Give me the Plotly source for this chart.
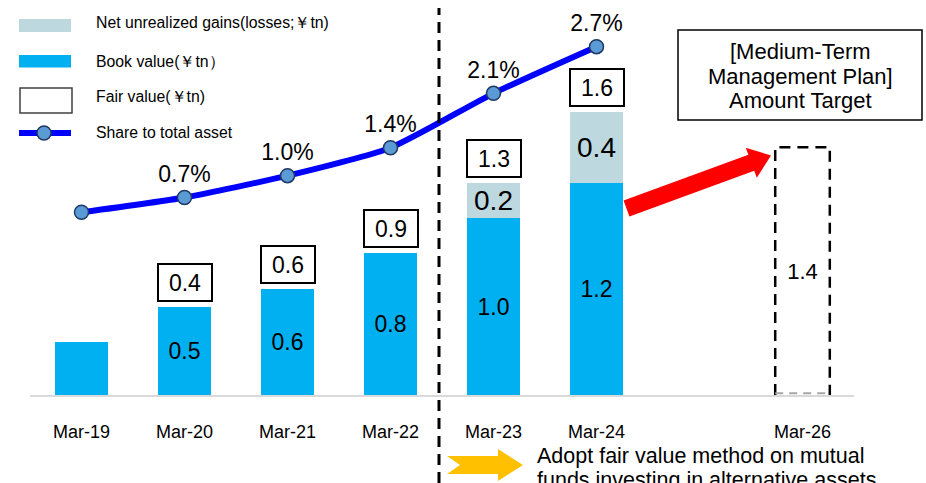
import math
import plotly.graph_objects as go

# ---------------- data ----------------
categories = ["Mar-19", "Mar-20", "Mar-21", "Mar-22", "Mar-23", "Mar-24", "", "Mar-26"]
book_value = [0.3, 0.5, 0.6, 0.8, 1.0, 1.2, None, None]
book_labels = ["", "0.5", "0.6", "0.8", "1.0", "1.2", "", ""]
unrealized_gains = [0.0, 0.0, 0.0, 0.0, 0.2, 0.4, None, None]
gain_labels = ["", "", "", "", "0.2", "0.4", "", ""]
fair_value_labels = ["", "0.4", "0.6", "0.9", "1.3", "1.6", "", ""]
share_pct = [0.57, 0.76, 1.04, 1.40, 2.10, 2.70]
share_labels = ["", "0.7%", "1.0%", "1.4%", "2.1%", "2.7%"]
target_value = [None, None, None, None, None, None, None, 1.4]
target_labels = ["", "", "", "", "", "", "", "1.4"]

legend_names = ["Net unrealized gains(losses;￥tn)", "Book value(￥tn）",
                "Fair value(￥tn)", "Share to total asset"]
plan_title = ["[Medium-Term", "Management Plan]", "Amount Target"]
note_lines = ["Adopt fair value method on mutual", "funds investing in alternative assets"]

# ---------------- styles ----------------
FONT = "Liberation Sans, Arial, sans-serif"
BOOK_C = "#00B0F0"
GAIN_C = "#BDD8DF"
LINE_C = "#0000FF"
MARK_C = "#5B9BD5"
W, H = 926, 483
L, R, T, B = 30, 72, 0, 88
PW, PH = W - L - R, H - T - B
BAR_W = 0.515


def px(xp):
    return (xp - L) / PW


def py(yp):
    return (PH + T - yp) / PH


x = list(range(len(categories)))

fig = go.Figure()

fig.add_trace(go.Bar(
    x=x, y=book_value, width=BAR_W, marker=dict(color=BOOK_C, line=dict(width=0)),
    text=book_labels, textposition="inside", insidetextanchor="middle",
    textfont=dict(size=23, color="black", family=FONT), constraintext="none",
    name=legend_names[1]))
fig.add_trace(go.Bar(
    x=x, y=unrealized_gains, width=BAR_W, marker=dict(color=GAIN_C, line=dict(width=0)),
    text=gain_labels, textposition="inside", insidetextanchor="middle",
    textfont=dict(size=28, color="black", family=FONT), constraintext="none",
    name=legend_names[0]))
fig.add_trace(go.Bar(
    x=x, y=target_value, width=0.53, marker=dict(color="rgba(0,0,0,0)", line=dict(width=0)),
    text=target_labels, textposition="inside", insidetextanchor="middle",
    textfont=dict(size=22, color="black", family=FONT), constraintext="none",
    name="Target"))

fig.add_trace(go.Scatter(
    x=x[:len(share_pct)], y=share_pct, yaxis="y2", mode="lines+markers+text",
    line=dict(color=LINE_C, width=6, shape="spline", smoothing=0.6),
    marker=dict(size=14, color=MARK_C, line=dict(color="#1F3864", width=1.5)),
    text=share_labels, textposition="top center",
    textfont=dict(size=23, color="black", family=FONT), cliponaxis=False,
    name=legend_names[3]))

shapes = []
annotations = []

# fair value boxes
for i, lab in enumerate(fair_value_labels):
    if not lab:
        continue
    top = (book_value[i] or 0) + (unrealized_gains[i] or 0)
    annotations.append(dict(
        x=x[i], y=top, xref="x", yref="y", yanchor="bottom", yshift=5,
        text=lab, showarrow=False, font=dict(size=23, color="black", family=FONT),
        bordercolor="black", borderwidth=2, borderpad=0, width=52, height=35,
        bgcolor="white"))

# target dashed outline
ti = len(target_value) - 1
tv = target_value[ti]
hw = 0.53 / 2
shapes.append(dict(type="path", xref="x", yref="y",
                   path=f"M {x[ti]-hw},0 L {x[ti]-hw},{tv} L {x[ti]+hw},{tv} L {x[ti]+hw},0",
                   line=dict(color="black", width=2.5, dash="11px,7px")))
shapes.append(dict(type="line", xref="x", yref="y", x0=x[ti] - hw, x1=x[ti] + hw, y0=0.01, y1=0.01,
                   line=dict(color="#A6A6A6", width=2, dash="8px,6px")))

# vertical dashed separator
shapes.append(dict(type="line", xref="paper", yref="paper", x0=px(439), x1=px(439),
                   y0=py(483), y1=py(8), line=dict(color="black", width=3, dash="11px,7px")))

# medium-term plan box
shapes.append(dict(type="rect", xref="paper", yref="paper", x0=px(678), x1=px(922),
                   y0=py(120), y1=py(30), line=dict(color="black", width=1.5)))
for line_txt, yc in zip(plan_title, [51, 76, 100.5]):
    annotations.append(dict(x=px(800), y=py(yc), xref="paper", yref="paper",
                            xanchor="center", yanchor="middle", text=line_txt, showarrow=False,
                            font=dict(size=22, color="black", family=FONT)))

# red arrow (pixel geometry -> paper)
tx, ty = 626.5, 208.5
qx, qy = 771.0, 155.5
d = math.hypot(qx - tx, qy - ty)
ux, uy = (qx - tx) / d, (qy - ty) / d
nx, ny = -uy, ux
bx, by = qx - 21 * ux, qy - 21 * uy
pts = [(tx - 8.5 * nx, ty - 8.5 * ny), (bx - 8.5 * nx, by - 8.5 * ny), (bx - 16 * nx, by - 16 * ny),
       (qx, qy), (bx + 16 * nx, by + 16 * ny), (bx + 8.5 * nx, by + 8.5 * ny),
       (tx + 8.5 * nx, ty + 8.5 * ny)]
path = "M " + " L ".join(f"{px(a):.5f},{py(b):.5f}" for a, b in pts) + " Z"
shapes.append(dict(type="path", xref="paper", yref="paper", path=path,
                   fillcolor="#FF0000", line=dict(width=0)))

# yellow chevron arrow
ypts = [(447, 456), (498, 456), (498, 449), (523, 465), (498, 481), (498, 474), (447, 474), (460, 465)]
ypath = "M " + " L ".join(f"{px(a):.5f},{py(b):.5f}" for a, b in ypts) + " Z"
shapes.append(dict(type="path", xref="paper", yref="paper", path=ypath,
                   fillcolor="#FFC000", line=dict(width=0)))
for line_txt, yc in zip(note_lines, [455.5, 479.5]):
    annotations.append(dict(x=px(535), y=py(yc), xref="paper", yref="paper",
                            xanchor="left", yanchor="middle", text=line_txt, showarrow=False,
                            font=dict(size=21.5, color="black", family=FONT)))

# custom legend
shapes.append(dict(type="rect", xref="paper", yref="paper", x0=px(19), x1=px(71), y0=py(32), y1=py(19),
                   fillcolor=GAIN_C, line=dict(width=0)))
shapes.append(dict(type="rect", xref="paper", yref="paper", x0=px(19), x1=px(71), y0=py(67.5), y1=py(55),
                   fillcolor=BOOK_C, line=dict(width=0)))
shapes.append(dict(type="rect", xref="paper", yref="paper", x0=px(20), x1=px(72), y0=py(113), y1=py(88),
                   fillcolor="white", line=dict(color="#404040", width=1.5)))
shapes.append(dict(type="line", xref="paper", yref="paper", x0=px(19), x1=px(71), y0=py(133), y1=py(133),
                   line=dict(color=LINE_C, width=6)))
shapes.append(dict(type="circle", xref="paper", yref="paper", x0=px(37), x1=px(51), y0=py(140), y1=py(126),
                   fillcolor=MARK_C, line=dict(color="#1F3864", width=1.5)))
for name, yc in zip(legend_names, [23, 62, 97, 132]):
    annotations.append(dict(x=px(94), y=py(yc), xref="paper", yref="paper",
                            xanchor="left", yanchor="middle", text=name, showarrow=False,
                            font=dict(size=15.8, color="black", family=FONT)))

fig.update_layout(
    width=W, height=H,
    margin=dict(l=L, r=R, t=T, b=B, autoexpand=False),
    paper_bgcolor="white", plot_bgcolor="white",
    barmode="stack", bargap=0.2, showlegend=False,
    font=dict(family=FONT, color="black"),
    xaxis=dict(range=[-0.5, 7.5], tickmode="array", tickvals=x, ticktext=categories,
               showline=True, linecolor="#D9D9D9", linewidth=2, showgrid=False, zeroline=False,
               ticks="", tickfont=dict(size=18, color="black", family=FONT), ticklabelstandoff=19),
    yaxis=dict(range=[0, PH / 177.0], visible=False, fixedrange=True),
    yaxis2=dict(range=[-1.782, 3.301], overlaying="y", visible=False),
    shapes=shapes, annotations=annotations,
)

fig.write_html("out.html")
